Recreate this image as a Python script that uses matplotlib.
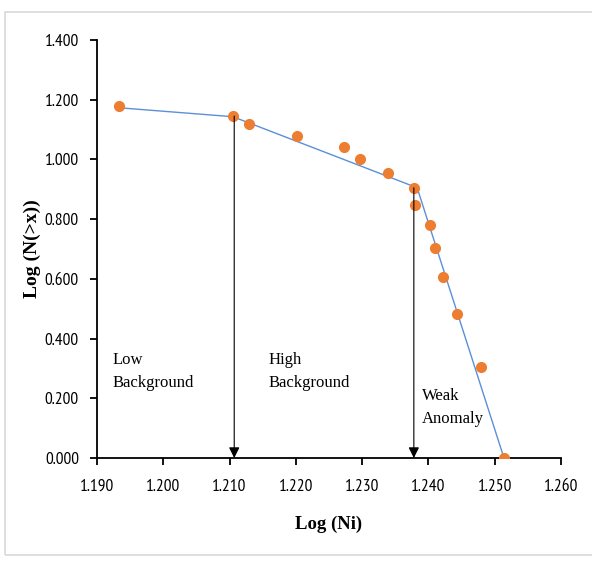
import matplotlib.pyplot as plt
from matplotlib.patches import Rectangle

# cumulative frequency data (log scale)
log_ni = [1.1933, 1.2105, 1.2129, 1.2202, 1.2273, 1.2297, 1.2339, 1.2378,
          1.2379, 1.2402, 1.2410, 1.2422, 1.2443, 1.2479, 1.2514]
log_n = [1.178, 1.145, 1.117, 1.080, 1.043, 1.001, 0.955, 0.905,
         0.847, 0.780, 0.703, 0.606, 0.482, 0.305, 0.000]

# fitted segments
fit_x = [1.1933, 1.2105, 1.2383, 1.2514]
fit_y = [1.173, 1.143, 0.905, 0.000]

# threshold arrows (x, top y)
thr_x = [1.2107, 1.2378]
thr_y = [1.145, 0.905]

labels = ["Low\nBackground", "High\nBackground", "Weak\nAnomaly"]
label_x = [1.1924, 1.2158, 1.2390]
label_y = [0.355, 0.355, 0.235]

xticks = [1.19, 1.20, 1.21, 1.22, 1.23, 1.24, 1.25, 1.26]
yticks = [0.0, 0.2, 0.4, 0.6, 0.8, 1.0, 1.2, 1.4]

fig = plt.figure(figsize=(5.92, 5.63), dpi=100)
fig.patches.append(Rectangle((5 / 592, 8 / 563), 0.995, 543 / 563,
                             transform=fig.transFigure, fill=False,
                             edgecolor='#d9d9d9', linewidth=1.2))
ax = fig.add_axes([0.1639, 0.1865, 0.7837, 0.7425])

ax.plot(fit_x, fit_y, color='#5b8fd9', linewidth=1.0, zorder=2)
ax.plot(log_ni, log_n, 'o', color='#ed7d31', markersize=7, zorder=3)

for x, y in zip(thr_x, thr_y):
    ax.annotate('', xy=(x, 0.0), xytext=(x, y),
                arrowprops=dict(arrowstyle='-|>', color='black', lw=0.8,
                                mutation_scale=16, shrinkA=0, shrinkB=0),
                zorder=4)

for t, x, y in zip(labels, label_x, label_y):
    ax.text(x, y, t, ha='left', va='top', fontsize=12,
            family='Liberation Serif', linespacing=1.6)

ax.set_xlim(1.19, 1.26)
ax.set_ylim(0, 1.4)
ax.set_xticks(xticks)
ax.set_yticks(yticks)
ax.set_xticklabels(['%.3f' % v for v in xticks])
ax.set_yticklabels(['%.3f' % v for v in yticks])
for lab in ax.get_xticklabels() + ax.get_yticklabels():
    lab.set_family(['PT Sans Narrow', 'DejaVu Sans'])
    lab.set_fontsize(12.5)

ax.spines['top'].set_visible(False)
ax.spines['right'].set_visible(False)
ax.spines['left'].set_linewidth(1.3)
ax.spines['bottom'].set_linewidth(1.3)
ax.tick_params(axis='both', direction='out', length=5, width=1.3, colors='black')
ax.tick_params(axis='x', pad=10)
ax.tick_params(axis='y', pad=8)

ax.set_xlabel('Log (Ni)', fontsize=13.5, fontweight='bold',
              family='Liberation Serif', labelpad=15)
ax.set_ylabel('Log (N(>x))', fontsize=14, fontweight='bold',
              family='Liberation Serif', labelpad=3)

fig.savefig('out.png', dpi=100)
